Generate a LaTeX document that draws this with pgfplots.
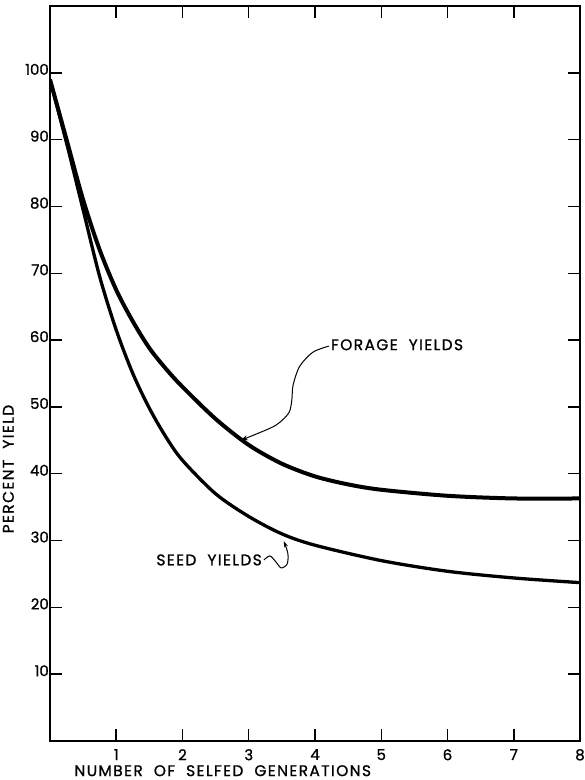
\documentclass[border=0pt]{standalone}
\usepackage{fontspec}
\setmainfont{Poppins}
\newfontfamily\lbl{Poppins}[LetterSpace=9, FakeBold=1]
\newfontfamily\num{Poppins}[FakeBold=1]
\usepackage{pgfplots}
\pgfplotsset{compat=1.18}
\usetikzlibrary{arrows.meta,calc}

\begin{document}
\begin{tikzpicture}
\begin{axis}[
  scale only axis,
  width=530bp, height=735bp,
  xmin=0, xmax=8, ymin=0, ymax=110,
  xtick={1,2,...,8},
  ytick={10,20,...,100},
  axis line style={line width=1.6bp},
  tick align=inside,
  major tick length=12bp,
  tick style={line width=1.5bp, black},
  /pgf/number format/assume math mode=true,
  ticklabel style={font=\num\fontsize{15}{15}\selectfont},
  yticklabel style={anchor=base east, yshift=-2bp, inner sep=1bp},
  xticklabel style={anchor=north, inner sep=0pt, yshift=-8bp},
  label style={font=\lbl\fontsize{15.5}{15.5}\selectfont},
  xlabel={NUMBER\ \ OF\ \ SELFED\ \ GENERATIONS},
  xlabel style={at={(axis description cs:0.326,0)}, anchor=north, inner sep=0pt, yshift=-24bp},
  ylabel={PERCENT\ \ YIELD},
  ylabel style={at={(axis description cs:0,0.37)}, anchor=south, inner sep=0pt, yshift=36bp},
]
% forage yields
\addplot[smooth, line width=4bp, black] coordinates {
  (0,99) (0.25,90) (0.5,81) (0.75,73.5) (1,67.5) (1.25,62.8) (1.5,58.8)
  (1.75,55.7) (2,53) (2.5,48.2) (3,44.3) (3.5,41.5) (4,39.6) (4.5,38.4)
  (5,37.6) (6,36.7) (7,36.3) (8,36.3)
};
% seed yields
\addplot[smooth, line width=3.3bp, black] coordinates {
  (0,99) (0.25,89.5) (0.5,79.5) (0.75,69.5) (1,61.5) (1.25,55) (1.5,49.8)
  (1.75,45.5) (2,42) (2.5,37) (3,33.6) (3.5,31) (4,29.3) (5,27) (6,25.4)
  (7,24.4) (8,23.7)
};
\node[anchor=west, inner sep=0pt, font=\lbl\fontsize{15.5}{15.5}\selectfont]
  at (axis cs:4.24,59.3) {FORAGE\ \ YIELDS};
\node[anchor=east, inner sep=0pt, font=\lbl\fontsize{15.5}{15.5}\selectfont]
  at (axis cs:3.2,27.1) {SEED\ \ YIELDS};
\draw[-{Stealth[length=7bp,width=5bp]}, line width=1bp] plot[smooth] coordinates {
  (axis cs:4.21,59.1) (axis cs:3.97,58.2) (axis cs:3.77,56.1) (axis cs:3.67,53.3)
  (axis cs:3.65,51.0) (axis cs:3.61,49.2) (axis cs:3.47,47.7) (axis cs:3.32,46.8)
  (axis cs:2.88,45.0)
};
\draw[-{Stealth[length=6bp,width=4bp]}, line width=1bp] plot[smooth] coordinates {
  (axis cs:3.23,27.1) (axis cs:3.32,27.7) (axis cs:3.41,26.8) (axis cs:3.49,25.9)
  (axis cs:3.58,26.5) (axis cs:3.59,28.1) (axis cs:3.53,29.9)
};
\coordinate (sw) at (rel axis cs:0,0);
\coordinate (ne) at (rel axis cs:1,1);
\end{axis}
\pgfresetboundingbox
\path[use as bounding box] ($(sw)+(-50bp,-39bp)$) rectangle ($(ne)+(5bp,6bp)$);
\end{tikzpicture}
\end{document}
